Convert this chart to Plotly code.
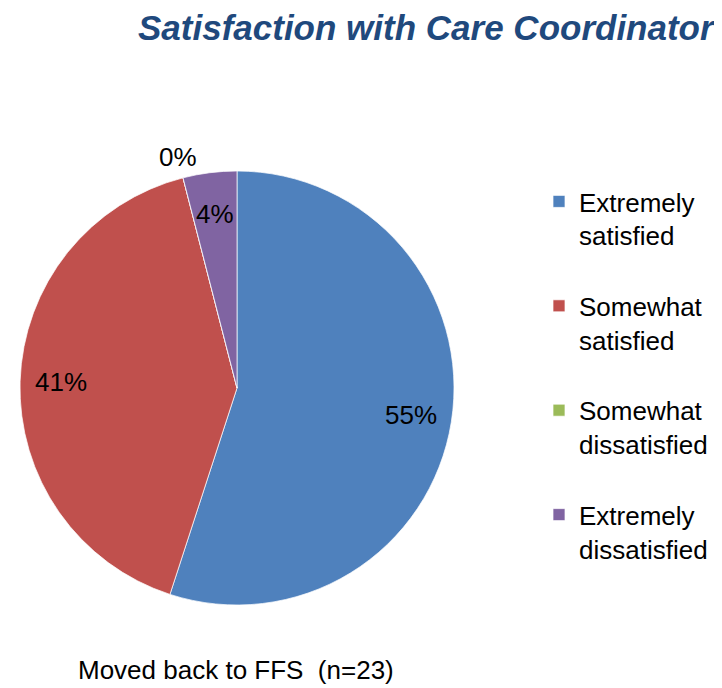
import math
import plotly.graph_objects as go

categories = ["Extremely<br>satisfied<br> ", "Somewhat<br>satisfied<br> ",
              "Somewhat<br>dissatisfied<br> ", "Extremely<br>dissatisfied<br> "]
values = [55, 41, 0, 4]
colors = ["#4F81BD", "#C0504D", "#9BBB59", "#8064A2"]
label_outside = [False, False, True, False]

# figure size (page body adds 8px margin)
W, H = 714, 680
CX, CY, R = 229, 380, 217  # pie centre / radius in figure pixels

fig = go.Figure(go.Pie(
    labels=categories, values=values, sort=False, direction="clockwise", rotation=0,
    marker=dict(colors=colors, line=dict(color="rgba(255,255,255,0.7)", width=1)),
    textinfo="none",
    domain=dict(x=[(CX - R) / W, (CX + R) / W], y=[(H - CY - R) / H, (H - CY + R) / H]),
    hoverinfo="label+percent",
))

# percentage labels placed along each slice's bisector
annotations = []
total = sum(values)
cum = 0
for v, out in zip(values, label_outside):
    mid = (cum + v / 2) / total * 2 * math.pi
    cum += v
    r = R * (1.1 if out else 0.81)
    px = CX + r * math.sin(mid)
    py = CY - r * math.cos(mid)
    annotations.append(dict(text=f"{v}%", x=px / W, y=1 - py / H, xref="paper", yref="paper",
                            xanchor="center", yanchor="middle", showarrow=False,
                            font=dict(family="Liberation Sans, Arial", size=26, color="black")))

annotations.append(dict(text="<b><i>Satisfaction with Care Coordinator</i></b>", x=710 / W, y=1 - 19 / H,
                        xref="paper", yref="paper", xanchor="right", yanchor="middle", showarrow=False,
                        font=dict(family="Liberation Sans, Arial", size=35, color="#1F497D")))
annotations.append(dict(text="Moved back to FFS&nbsp;&nbsp;(n=23)", x=228 / W, y=1 - 662 / H,
                        xref="paper", yref="paper", xanchor="center", yanchor="middle", showarrow=False,
                        font=dict(family="Liberation Sans, Arial", size=26, color="black")))

fig.update_layout(
    width=W, height=H, margin=dict(l=0, r=0, t=0, b=0),
    paper_bgcolor="white", plot_bgcolor="white",
    font=dict(family="Liberation Sans, Arial", size=26, color="black"),
    legend=dict(x=531 / W, xanchor="left", y=1 - 170 / H, yanchor="top", valign="top",
                font=dict(family="Liberation Sans, Arial", size=26, color="black"),
                bgcolor="rgba(0,0,0,0)"),
    annotations=annotations,
)
fig.write_html("out.html")
